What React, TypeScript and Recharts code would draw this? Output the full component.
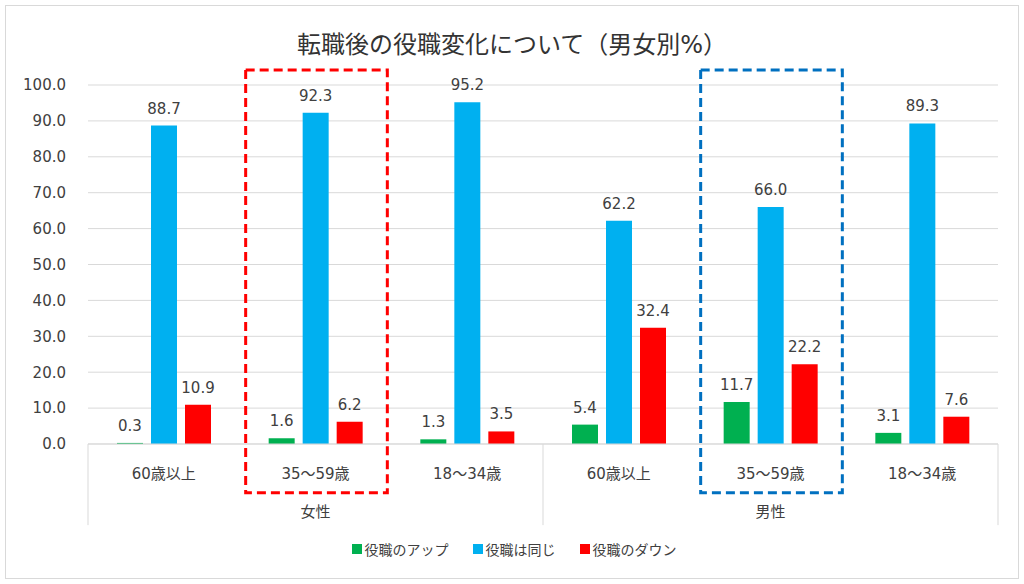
import React from 'react';
import {
  BarChart,
  Bar,
  XAxis,
  YAxis,
  CartesianGrid,
  Legend,
  LabelList,
  ReferenceArea,
  ReferenceLine,
} from 'recharts';

const categories = ['F60', 'F35', 'F18', 'M60', 'M35', 'M18'];
const ageLabels = ['60歳以上', '35～59歳', '18～34歳', '60歳以上', '35～59歳', '18～34歳'];
const genderLabels = ['女性', '女性', '女性', '男性', '男性', '男性'];
const seriesNames = ['役職のアップ', '役職は同じ', '役職のダウン'];
const upValues = [0.3, 1.6, 1.3, 5.4, 11.7, 3.1];
const sameValues = [88.7, 92.3, 95.2, 62.2, 66.0, 89.3];
const downValues = [10.9, 6.2, 3.5, 32.4, 22.2, 7.6];
const yTicks = [0, 10, 20, 30, 40, 50, 60, 70, 80, 90, 100];

const data = categories.map((key, i) => ({
  key,
  age: ageLabels[i],
  gender: genderLabels[i],
  up: upValues[i],
  same: sameValues[i],
  down: downValues[i],
}));

const FONT = '"DejaVu Sans", "Noto Sans CJK JP", sans-serif';
const TEXT = '#404040';
const GRID = '#d9d9d9';

const fmt = (v: any) => Number(v).toFixed(1);

const DashedBox = (color: string) => (props: any) => {
  const { x, y, width, height } = props;
  return (
    <rect
      x={x + 6}
      y={y}
      width={width - 10}
      height={height}
      fill="none"
      stroke={color}
      strokeWidth={3}
      strokeDasharray="9 5"
    />
  );
};

const LegendContent = (props: any) => {
  const items = [...(props.payload || [])].sort(
    (a: any, b: any) => seriesNames.indexOf(a.value) - seriesNames.indexOf(b.value)
  );
  return (
    <div
      style={{
        height: 30,
        display: 'flex',
        justifyContent: 'center',
        alignItems: 'center',
        gap: 24,
        paddingLeft: 30,
        fontFamily: FONT,
        fontSize: 14,
        color: TEXT,
      }}
    >
      {items.map((p: any) => (
        <span key={p.value} style={{ display: 'flex', alignItems: 'center' }}>
          <span style={{ width: 10, height: 10, background: p.color, marginRight: 3, display: 'inline-block' }} />
          {p.value}
        </span>
      ))}
    </div>
  );
};

export default function App() {
  return (
    <div style={{ position: 'absolute', left: 0, top: 0, width: 1024, height: 584, background: '#fff' }}>
      <div
        style={{
          position: 'absolute',
          left: 5,
          top: 5,
          width: 1012,
          height: 572,
          border: `1px solid ${GRID}`,
        }}
      />
      <div
        style={{
          position: 'absolute',
          left: 0,
          top: 25,
          width: 1024,
          textAlign: 'center',
          fontFamily: FONT,
          fontSize: 24,
          color: '#333',
        }}
      >
        転職後の役職変化について（男女別%）
      </div>
      <BarChart
        width={1024}
        height={584}
        data={data}
        margin={{ top: 85, right: 26, bottom: 20, left: 0 }}
        barSize={26}
        barGap={8}
        style={{ position: 'absolute', left: 0, top: 0 }}
      >
        <CartesianGrid vertical={false} stroke={GRID} />
        <XAxis
          dataKey="key"
          height={50}
          axisLine={{ stroke: GRID }}
          tickLine={false}
          tickMargin={18}
          tickFormatter={(v: string) => ageLabels[categories.indexOf(v)]}
          tick={{ fill: TEXT, fontSize: 15, fontFamily: FONT }}
        />
        <XAxis
          xAxisId="g"
          dataKey="gender"
          allowDuplicatedCategory={false}
          height={40}
          axisLine={false}
          tickLine={false}
          tickMargin={6}
          tick={{ fill: TEXT, fontSize: 15, fontFamily: FONT }}
        />
        <YAxis
          width={88}
          domain={[0, 100]}
          ticks={yTicks}
          axisLine={false}
          tickLine={false}
          tickSize={0}
          tickMargin={22}
          tickFormatter={fmt}
          tick={{ fill: TEXT, fontSize: 15, fontFamily: FONT }}
        />
        <ReferenceLine
          segment={[{ x: 'F60', y: 0 }, { x: 'F60', y: -22.6 }]}
          position="start"
          stroke={GRID}
          ifOverflow="visible"
        />
        <ReferenceLine
          segment={[{ x: 'M60', y: 0 }, { x: 'M60', y: -22.6 }]}
          position="start"
          stroke={GRID}
          ifOverflow="visible"
        />
        <ReferenceLine
          segment={[{ x: 'M18', y: 0 }, { x: 'M18', y: -22.6 }]}
          position="end"
          stroke={GRID}
          ifOverflow="visible"
        />
        <Bar dataKey="up" name={seriesNames[0]} fill="#00B050" isAnimationActive={false}>
          <LabelList dataKey="up" position="top" offset={12} formatter={fmt} fill={TEXT} fontSize={15} fontFamily={FONT} />
        </Bar>
        <Bar dataKey="same" name={seriesNames[1]} fill="#00B0F0" isAnimationActive={false}>
          <LabelList dataKey="same" position="top" offset={12} formatter={fmt} fill={TEXT} fontSize={15} fontFamily={FONT} />
        </Bar>
        <Bar dataKey="down" name={seriesNames[2]} fill="#FF0000" isAnimationActive={false}>
          <LabelList dataKey="down" position="top" offset={12} formatter={fmt} fill={TEXT} fontSize={15} fontFamily={FONT} />
        </Bar>
        <ReferenceArea
          x1="F35"
          x2="F35"
          y1={-13.6}
          y2={104.2}
          ifOverflow="visible"
          shape={DashedBox('#FF0000')}
        />
        <ReferenceArea
          x1="M35"
          x2="M35"
          y1={-13.6}
          y2={104.2}
          ifOverflow="visible"
          shape={DashedBox('#0070C0')}
        />
        <Legend verticalAlign="bottom" content={LegendContent} />
      </BarChart>
    </div>
  );
}
